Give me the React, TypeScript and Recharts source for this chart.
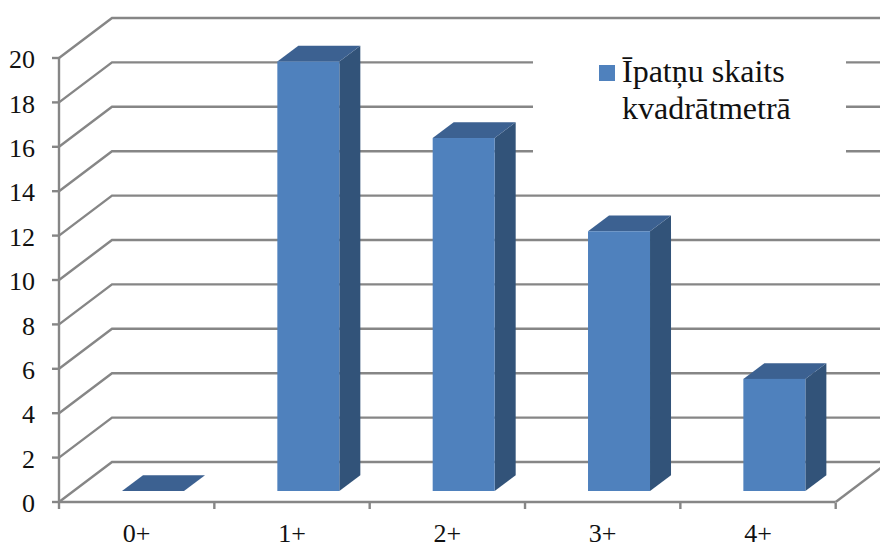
import React from "react";
import { BarChart, Bar, XAxis, YAxis, CartesianGrid, Legend } from "recharts";

const categories = ["0+", "1+", "2+", "3+", "4+"];
const seriesName = "Īpatņu skaits kvadrātmetrā";
const legendLines = ["Īpatņu skaits", "kvadrātmetrā"];
const values = [0, 19.35, 15.9, 11.7, 5.05];
const yTicks = [0, 2, 4, 6, 8, 10, 12, 14, 16, 18, 20];

const data = categories.map((name, i) => ({ name, [seriesName]: values[i] }));

const W = 880;
const H = 543;
const PLOT_L = 59;
const PLOT_R = 835.7;
const PLOT_T = 58;
const PLOT_B = 502;
const BAND = (PLOT_R - PLOT_L) / categories.length;
const WALL_DX = 53;
const WALL_DY = 40;
const FLOOR_DX = 16;
const FLOOR_DY = 11;
const DEPTH_DX = 21;
const DEPTH_DY = 15.7;
const FRONT = "#4f81bd";
const TOP = "#3c6191";
const SIDE = "#325379";
const GRID = "#868686";
const LINE_W = 2.4;
const FONT = "'Liberation Serif', 'Times New Roman', serif";

function GridLine(props: any) {
  const { x1, x2, y1 } = props;
  const isFloor = Math.abs(y1 - PLOT_B) < 1;
  return (
    <g>
      <polyline
        points={`${x1},${y1} ${x1 + WALL_DX},${y1 - WALL_DY} ${W},${y1 - WALL_DY}`}
        fill="none"
        stroke={GRID}
        strokeWidth={LINE_W}
      />
      {isFloor && (
        <line x1={x2} y1={y1} x2={x2 + WALL_DX} y2={y1 - WALL_DY} stroke={GRID} strokeWidth={LINE_W} />
      )}
    </g>
  );
}

function Bar3D(props: any) {
  const { x, y, width, height } = props;
  const l = x + FLOOR_DX;
  const t = y - FLOOR_DY;
  const r = l + width;
  const b = t + height;
  return (
    <g>
      {height > 0 && (
        <polygon
          points={`${r},${t} ${r + DEPTH_DX},${t - DEPTH_DY} ${r + DEPTH_DX},${b - DEPTH_DY} ${r},${b}`}
          fill={SIDE}
        />
      )}
      <polygon
        points={`${l},${t} ${l + DEPTH_DX},${t - DEPTH_DY} ${r + DEPTH_DX},${t - DEPTH_DY} ${r},${t}`}
        fill={TOP}
      />
      {height > 0 && <rect x={l} y={t} width={width} height={height} fill={FRONT} />}
    </g>
  );
}

function XTick(props: any) {
  const { x, payload, index } = props;
  const axisY = PLOT_B + 1;
  return (
    <g>
      <line x1={x - BAND / 2} y1={axisY} x2={x - BAND / 2} y2={axisY + 6} stroke={GRID} strokeWidth={LINE_W} />
      {index === categories.length - 1 && (
        <line x1={x + BAND / 2} y1={axisY} x2={x + BAND / 2} y2={axisY + 6} stroke={GRID} strokeWidth={LINE_W} />
      )}
      <text x={x} y={PLOT_B + 39.5} textAnchor="middle" fontFamily={FONT} fontSize={26} fill="#111">
        {payload.value}
      </text>
    </g>
  );
}

function LegendBox() {
  return (
    <div style={{ background: "#fff", width: 313, height: 130, position: "relative", fontFamily: FONT, fontSize: 32, lineHeight: "37px", color: "#111" }}>
      <div style={{ position: "absolute", left: 66, top: 25, width: 16, height: 16, background: FRONT }} />
      <div style={{ position: "absolute", left: 89, top: 13, whiteSpace: "nowrap" }}>
        {legendLines.map((l) => (
          <div key={l}>{l}</div>
        ))}
      </div>
    </div>
  );
}

export default function App() {
  return (
    <div style={{ position: "absolute", left: 0, top: 0, width: W, height: H, overflow: "hidden", background: "#fff" }}>
      <BarChart
        width={W}
        height={H}
        data={data}
        margin={{ top: PLOT_T, right: W - PLOT_R, bottom: 0, left: 0 }}
        barCategoryGap={0}
      >
        <CartesianGrid vertical={false} horizontal={(p: any) => <GridLine key={p.key} {...p} />} />
        <XAxis
          dataKey="name"
          height={H - PLOT_B}
          tickLine={false}
          axisLine={{ stroke: GRID, strokeWidth: LINE_W }}
          tick={<XTick />}
          interval={0}
        />
        <YAxis
          width={PLOT_L}
          domain={[0, 20]}
          ticks={yTicks}
          interval={0}
          tickSize={7}
          tickLine={{ stroke: GRID, strokeWidth: LINE_W }}
          axisLine={{ stroke: GRID, strokeWidth: LINE_W }}
          tick={{ fontFamily: FONT, fontSize: 26, fill: "#111", dy: 1 }}
          tickMargin={17}
        />
        <Legend
          verticalAlign="middle"
          align="center"
          layout="vertical"
          wrapperStyle={{ left: 533, top: 40, width: 313, height: 130 }}
          content={() => <LegendBox />}
        />
        <Bar dataKey={seriesName} barSize={62} fill={FRONT} isAnimationActive={false} shape={<Bar3D />} />
      </BarChart>
    </div>
  );
}
